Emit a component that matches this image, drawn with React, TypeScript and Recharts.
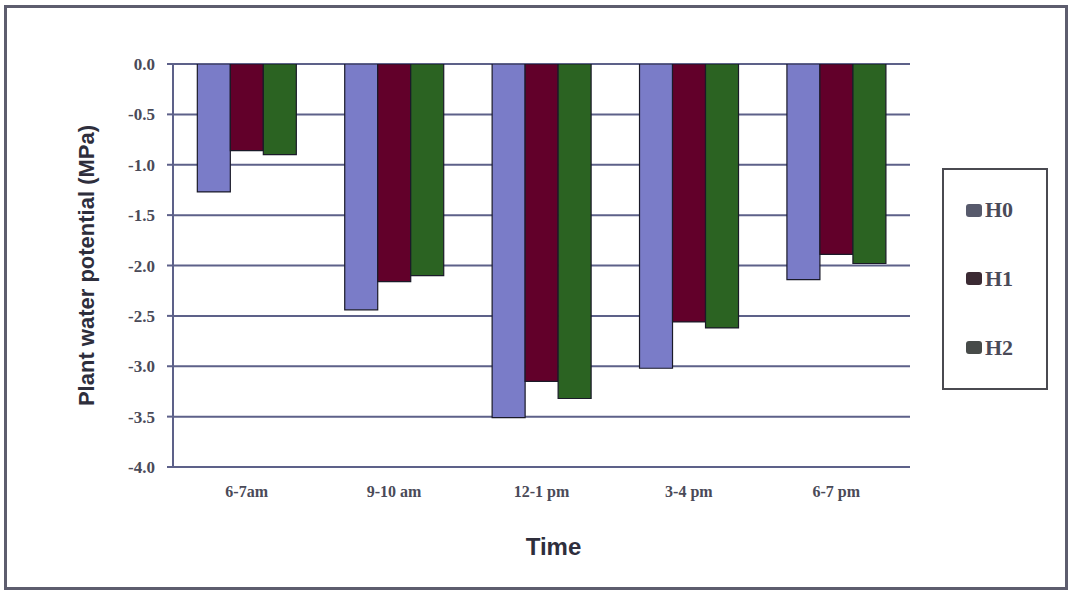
import { BarChart, Bar, XAxis, YAxis, CartesianGrid, Legend } from 'recharts';

const categories = ['6-7am', '9-10 am', '12-1 pm', '3-4 pm', '6-7 pm'];
const h0Values = [-1.27, -2.44, -3.51, -3.02, -2.14];
const h1Values = [-0.86, -2.16, -3.15, -2.56, -1.89];
const h2Values = [-0.9, -2.1, -3.32, -2.62, -1.98];
const yTicks = [0, -0.5, -1, -1.5, -2, -2.5, -3, -3.5, -4];

const series = [
  { key: 'H0', fill: '#7a7cc8', swatch: '#575a6c' },
  { key: 'H1', fill: '#62002a', swatch: '#3b2a33' },
  { key: 'H2', fill: '#2b6322', swatch: '#474b49' },
];

const data = categories.map((time, i) => ({
  time,
  H0: h0Values[i],
  H1: h1Values[i],
  H2: h2Values[i],
}));

const serif = '"Liberation Serif", "Times New Roman", serif';
const sans = '"Liberation Sans", Arial, sans-serif';
const gridColor = '#5d6189';
const textColor = '#4a4a58';

function TimeTick({ x, y, payload }: any) {
  return (
    <text x={x} y={y + 30} textAnchor="middle" fill={textColor}
      fontFamily={serif} fontWeight="bold" fontSize={16}>
      {payload.value}
    </text>
  );
}

function LegendBox() {
  return (
    <div style={{
      width: 106, height: 222, boxSizing: 'border-box', border: '2px solid #4a4a50',
      background: '#fff', display: 'flex', flexDirection: 'column', justifyContent: 'space-around',
      padding: '6px 0',
    }}>
      {series.map((s) => (
        <div key={s.key} style={{ display: 'flex', alignItems: 'center', marginLeft: 22 }}>
          <span style={{
            display: 'inline-block', width: 16, height: 13, borderRadius: 3,
            background: s.swatch, marginRight: 3,
          }} />
          <span style={{ fontFamily: serif, fontWeight: 'bold', fontSize: 22, color: textColor }}>
            {s.key}
          </span>
        </div>
      ))}
    </div>
  );
}

export default function App() {
  return (
    <div style={{ position: 'absolute', left: 0, top: 0, width: 1070, height: 592, background: '#fff' }}>
      <div style={{
        position: 'absolute', left: 4, top: 5, width: 1064, height: 585,
        boxSizing: 'border-box', border: '3px solid #5d5d6e',
      }} />
      <div style={{ position: 'absolute', left: 0, top: 0 }}>
        <BarChart width={1070} height={592} data={data}
          margin={{ top: 64, right: 160, bottom: 85, left: 0 }}
          barCategoryGap="16.5%" barGap={0}>
          <CartesianGrid vertical={false} stroke={gridColor} strokeWidth={2} />
          <XAxis dataKey="time" height={40} tickLine={false} tickSize={0} tickMargin={0}
            axisLine={{ stroke: gridColor, strokeWidth: 2 }} tick={<TimeTick />}
            label={{
              value: 'Time', position: 'bottom', offset: 31, dx: 12,
              style: { fontFamily: sans, fontWeight: 'bold', fontSize: 24, fill: '#2e2e3c' },
            }} />
          <YAxis domain={[-4, 0]} ticks={yTicks} width={173} tickSize={6} tickMargin={12}
            interval={0} allowDataOverflow
            tickFormatter={(v: number) => v.toFixed(1)}
            axisLine={{ stroke: gridColor, strokeWidth: 2 }}
            tickLine={{ stroke: gridColor, strokeWidth: 2 }}
            tick={{ fill: textColor, fontFamily: serif, fontWeight: 'bold', fontSize: 17 }}
            label={{
              value: 'Plant water potential (MPa)', angle: -90, position: 'center',
              style: { fontFamily: sans, fontWeight: 'bold', fontSize: 22, fill: '#2e2e3c' },
            }} />
          <Legend layout="vertical" align="center" verticalAlign="middle"
            wrapperStyle={{ left: 942, top: 168, width: 106, height: 222 }}
            content={() => <LegendBox />} />
          {series.map((s) => (
            <Bar key={s.key} dataKey={s.key} fill={s.fill} stroke="#1a1a28" strokeWidth={1.2}
              isAnimationActive={false} />
          ))}
        </BarChart>
      </div>
    </div>
  );
}
